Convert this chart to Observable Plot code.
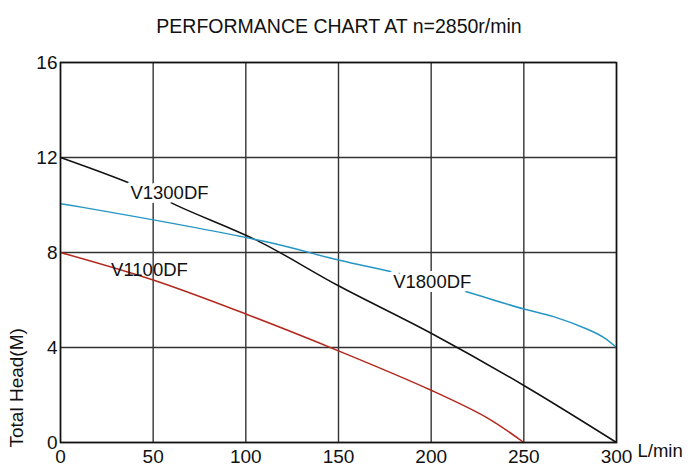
<!DOCTYPE html>
<html>
<head>
<meta charset="utf-8">
<script src="https://cdn.jsdelivr.net/npm/d3@7"></script>
<script src="https://cdn.jsdelivr.net/npm/@observablehq/plot@0.6"></script>
<style>
  body { margin: 0; background: #fff; font-family: "Liberation Sans", Arial, sans-serif; }
  #title { height: 40px; box-sizing: border-box; padding-top: 16px; padding-right: 11px; line-height: 20px; text-align: center; font-size: 19.5px; color: #111; white-space: nowrap; }
</style>
</head>
<body>
<div id="title">PERFORMANCE CHART AT n=2850r/min</div>
<div id="chart"></div>
<script>
// V1300DF (black)
const flow1300 = [0, 41, 65, 107, 150, 200, 250, 300];
const head1300 = [12.0, 10.8, 9.9, 8.47, 6.6, 4.6, 2.4, 0];
// V1800DF (blue)
const flow1800 = [0, 12, 111, 150, 184, 214, 250, 266, 284, 293, 300];
const head1800 = [10.05, 9.9, 8.45, 7.68, 7.09, 6.46, 5.62, 5.3, 4.78, 4.43, 4.0];
// V1100DF (red)
const flow1100 = [0, 50, 100, 150, 200, 230, 250];
const head1100 = [8.0, 6.84, 5.41, 3.86, 2.2, 1.05, 0];

const xTicks = [0, 50, 100, 150, 200, 250, 300];
const yTicks = [0, 4, 8, 12, 16];

const seriesNames = ["V1300DF", "V1800DF", "V1100DF"];
const seriesColors = ["#111111", "#2596c4", "#b3281c"];
const labelFlow = [58.8, 200.6, 48];
const labelHead = [10.49, 6.75, 7.27];
const labelHalo = [true, true, false];

const toRows = (name, xs, ys) => xs.map((x, i) => ({name, x, y: ys[i]}));
const rows = [
  ...toRows("V1300DF", flow1300, head1300),
  ...toRows("V1800DF", flow1800, head1800),
  ...toRows("V1100DF", flow1100, head1100)
];
const labels = seriesNames.map((name, i) => ({name, x: labelFlow[i], y: labelHead[i], halo: labelHalo[i]}));

const plot = Plot.plot({
  width: 689,
  height: 432,
  marginTop: 22,
  marginBottom: 30,
  marginLeft: 60,
  marginRight: 73,
  style: {fontFamily: "'Liberation Sans', Arial, sans-serif", fontSize: "18px", color: "#111", background: "#fff"},
  x: {domain: [0, 300], ticks: xTicks},
  y: {domain: [0, 16], ticks: yTicks},
  color: {domain: seriesNames, range: seriesColors},
  marks: [
    Plot.gridX(xTicks, {stroke: "#333", strokeOpacity: 1, strokeWidth: 1.4}),
    Plot.gridY(yTicks, {stroke: "#333", strokeOpacity: 1, strokeWidth: 1.4}),
    Plot.axisX(xTicks, {tickSize: 0, tickPadding: 7, label: null, fontSize: 19}),
    Plot.axisY(yTicks, {tickSize: 0, tickPadding: 3, label: null, fontSize: 19}),
    Plot.line(rows, {x: "x", y: "y", z: "name", stroke: "name", strokeWidth: 1.5, curve: "catmull-rom"}),
    Plot.text(labels.filter(d => d.halo), {x: "x", y: "y", text: "name", fill: "#111", stroke: "white", strokeWidth: 8, fontSize: 18.5}),
    Plot.text(labels.filter(d => !d.halo), {x: "x", y: "y", text: "name", fill: "#111", fontSize: 18.5}),
    Plot.text(["L/min"], {frameAnchor: "bottom-right", dx: 21, dy: 14, textAnchor: "start", fill: "#111", fontSize: 18.5}),
    Plot.text(["Total Head(M)"], {frameAnchor: "bottom-left", rotate: -90, textAnchor: "start", dx: -38, dy: 5, fill: "#111", fontSize: 19}),
    Plot.frame({stroke: "#111", strokeWidth: 1.5})
  ]
});
document.getElementById("chart").appendChild(plot);
</script>
</body>
</html>
